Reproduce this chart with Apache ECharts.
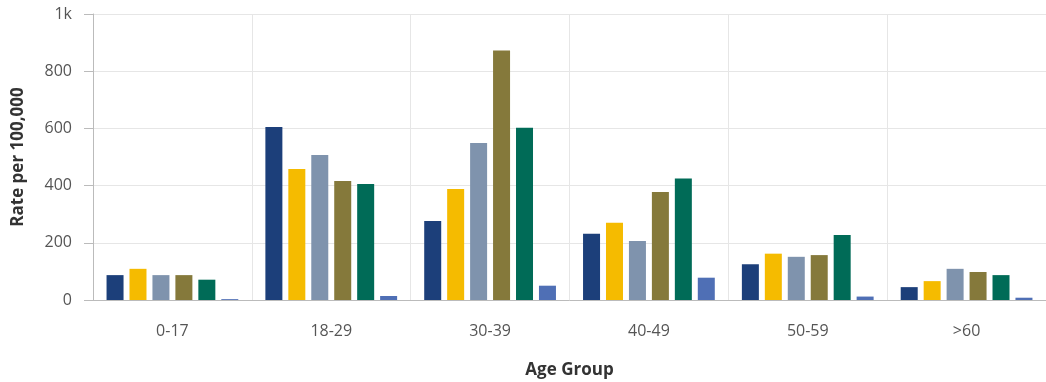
<!DOCTYPE html>
<html>
<head>
<meta charset="utf-8">
<script src="https://cdn.jsdelivr.net/npm/echarts@6/dist/echarts.min.js"></script>
<style>
  html, body { margin: 0; padding: 0; background: #fff; }
  #chart { width: 1046px; height: 382px; }
</style>
</head>
<body>
<div id="chart"></div>
<script>
var ageGroups = ['0-17', '18-29', '30-39', '40-49', '50-59', '>60'];

// six series, colours only (no legend in the picture)
var s1 = [87, 605, 276, 232, 125, 45];
var s2 = [109, 458, 388, 270, 162, 66];
var s3 = [87, 507, 549, 206, 151, 109];
var s4 = [87, 416, 872, 378, 157, 98];
var s5 = [71, 406, 602, 425, 227, 87];
var s6 = [3, 14, 50, 78, 12, 8];

var colors = ['#1c3f7a', '#f5bb00', '#7f93ad', '#85793b', '#006b57', '#4f6fb5'];

var chart = echarts.init(document.getElementById('chart'));

var makeBar = function (data, i) {
    return {
        type: 'bar',
        data: data,
        barWidth: 17,
        barGap: '35%',
        itemStyle: { color: colors[i] },
        animation: false
    };
};

chart.setOption({
    textStyle: { fontFamily: 'Open Sans' },
    grid: { left: 93, right: 0, top: 14, bottom: 82, outerBoundsMode: 'none', containLabel: false },
    xAxis: {
        type: 'category',
        data: ageGroups,
        name: 'Age Group',
        nameLocation: 'middle',
        nameGap: 62,
        nameTextStyle: { fontSize: 17, fontWeight: 'bold', color: '#333' },
        axisLine: { lineStyle: { color: '#bbb' } },
        axisTick: { alignWithLabel: true, length: 7, lineStyle: { color: '#bbb' } },
        axisLabel: { color: '#555', fontSize: 16, margin: 23 },
        splitLine: { show: true, lineStyle: { color: '#e6e6e6' } }
    },
    yAxis: {
        type: 'value',
        min: 0,
        max: 1000,
        interval: 200,
        name: 'Rate per 100,000',
        nameLocation: 'middle',
        nameGap: 66,
        nameTextStyle: { fontSize: 17, fontWeight: 'bold', color: '#333' },
        axisLine: { show: true, lineStyle: { color: '#bbb' } },
        axisTick: { show: true, length: 9, lineStyle: { color: '#bbb' } },
        axisLabel: {
            color: '#555',
            fontSize: 16,
            margin: 21,
            formatter: function (v) { return v === 1000 ? '1k' : v; }
        },
        splitLine: { lineStyle: { color: '#e6e6e6' } }
    },
    series: [s1, s2, s3, s4, s5, s6].map(makeBar)
});
</script>
</body>
</html>
